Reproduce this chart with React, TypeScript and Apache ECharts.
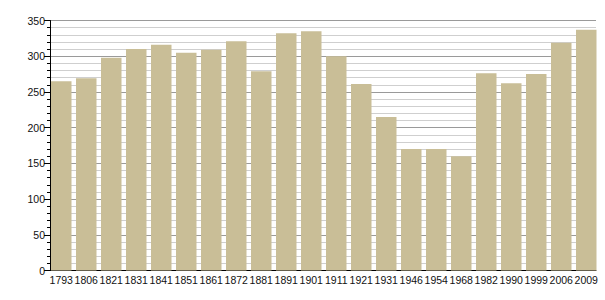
import React, { useEffect, useRef } from "react";
import * as echarts from "echarts";

const years = ["1793","1806","1821","1831","1841","1851","1861","1872","1881","1891","1901","1911","1921","1931","1946","1954","1968","1982","1990","1999","2006","2009"];
const population = [265,269,298,310,316,305,309,321,279,332,335,300,261,215,170,170,160,276,262,275,319,337];
const yMin = 0;
const yMax = 350;
const yStep = 50;

export default function App() {
  const ref = useRef<HTMLDivElement>(null);
  useEffect(() => {
    if (!ref.current) return;
    const chart = echarts.init(ref.current, null, { renderer: "svg" });
    const font = "'Liberation Sans', Arial, sans-serif";
    chart.setOption({
      animation: false,
      backgroundColor: "#ffffff",
      grid: [
        { left: 50, top: 20.5, width: 546, height: 250, containLabel: false },
        { left: 48.75, top: 20.5, width: 550, height: 250, containLabel: false },
      ],
      xAxis: [
        {
          type: "category",
          gridIndex: 0,
          data: years,
          axisLine: { show: true, lineStyle: { color: "#000", width: 1 } },
          axisTick: { show: false },
          axisLabel: { show: false },
          splitLine: { show: false },
        },
        {
          type: "category",
          gridIndex: 1,
          data: years,
          axisLine: { show: false },
          axisTick: { show: false },
          axisLabel: { show: true, interval: 0, margin: 4, fontSize: 10.5, color: "#111", fontFamily: font },
          splitLine: { show: false },
        },
      ],
      yAxis: [
        {
          type: "value",
          gridIndex: 0,
          min: yMin,
          max: yMax,
          interval: yStep,
          axisLine: { show: true, lineStyle: { color: "#000", width: 1 } },
          axisTick: { show: true, length: 6, lineStyle: { color: "#000" } },
          minorTick: { show: true, splitNumber: 5, length: 3, lineStyle: { color: "#000" } },
          axisLabel: { margin: 5, fontSize: 10.5, color: "#111", fontFamily: font },
          splitLine: { show: true, lineStyle: { color: "#9a9a9a", width: 1 } },
          minorSplitLine: { show: true, lineStyle: { color: "#cfcfcf", width: 1 } },
          z: 0,
        },
        {
          type: "value",
          gridIndex: 1,
          min: yMin,
          max: yMax,
          interval: yStep,
          show: false,
          splitLine: { show: false },
        },
      ],
      series: [
        {
          type: "bar",
          xAxisIndex: 1,
          yAxisIndex: 1,
          data: population,
          barWidth: 20.5,
          itemStyle: { color: "#c9be97" },
          z: 3,
        },
      ],
    });
    return () => chart.dispose();
  }, []);
  return <div ref={ref} style={{ position: "absolute", left: 0, top: 0, width: 605, height: 300 }} />;
}
